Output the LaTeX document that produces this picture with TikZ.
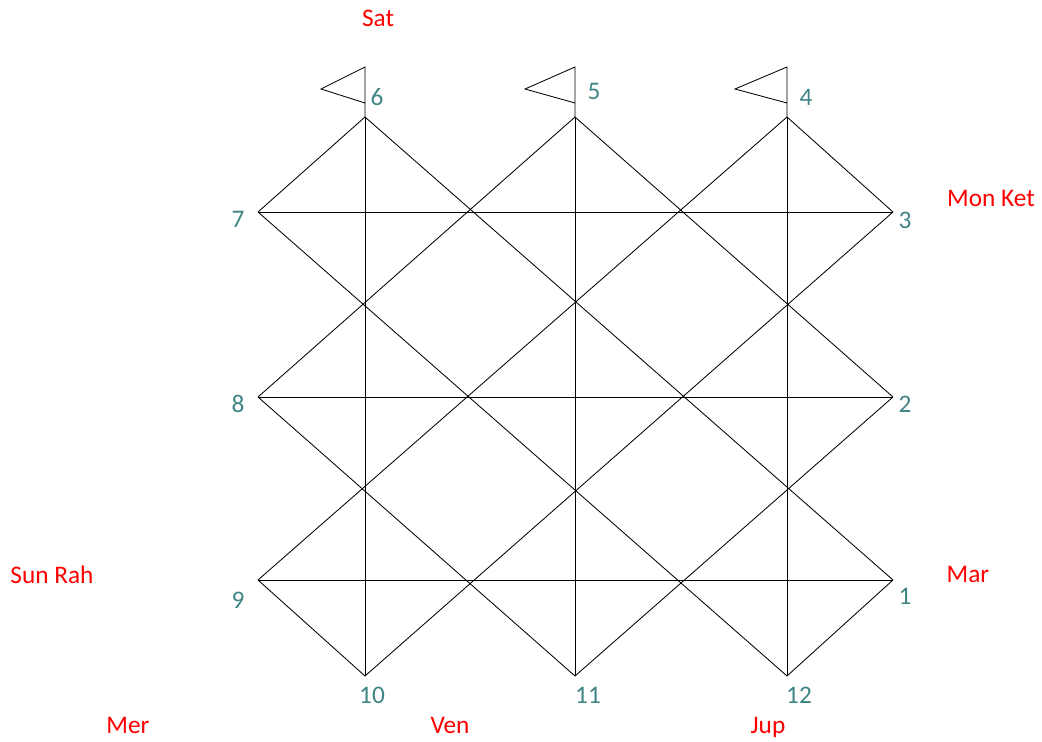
\documentclass[tikz,border=0pt]{standalone}
\usepackage{fontspec}
\setmainfont{Carlito}
\usetikzlibrary{positioning}
\definecolor{hsnum}{HTML}{3F8585}
\definecolor{hsplanet}{HTML}{FF0000}
\tikzset{
  hsline/.style={line width=0.6pt,black},
  hsnumber/.style={text=hsnum,font=\fontsize{18}{20}\selectfont,inner sep=0pt},
  hsname/.style={text=hsplanet,font=\fontsize{18}{20}\selectfont,inner sep=0pt},
}
\begin{document}
\begin{tikzpicture}[x=0.025cm,y=-0.025cm]
    \useasboundingbox (0,0) rectangle (1042,742);
    % corners of the chart
    \coordinate (h6) at (365,117);
    \coordinate (h5) at (575,117);
    \coordinate (h4) at (787,117);
    \coordinate (h7) at (258,212);
    \coordinate (h3) at (893,212);
    \coordinate (h8) at (258,397);
    \coordinate (h2) at (893,397);
    \coordinate (h9) at (258,580);
    \coordinate (h1) at (893,580);
    \coordinate (h10) at (365,676);
    \coordinate (h11) at (575,676);
    \coordinate (h12) at (787,676);
    % grid lines
    \foreach \a/\b in {h7/h3,h8/h2,h9/h1,h6/h10,h5/h11,h4/h12,
                       h7/h6,h6/h1,h5/h2,h4/h3,h4/h9,h5/h8,
                       h7/h12,h8/h11,h9/h10,h3/h10,h2/h11,h1/h12}
      \draw[hsline] (\a) -- (\b);
    % flags
    \foreach \p/\w in {h6/44,h5/50,h4/52}
      \draw[hsline] (\p) -- ++(0,-50) -- ++(-\w,22) -- ++(\w,14);
    % house numbers
    \node[hsnumber] (n6) at (377,97) {6};
    \node[hsnumber] (n5) at (594,91) {5};
    \node[hsnumber] (n4) at (806,97) {4};
    \node[hsnumber] (n7) at (238,219) {7};
    \node[hsnumber] (n3) at (905,220) {3};
    \node[hsnumber] (n8) at (238,404) {8};
    \node[hsnumber] (n2) at (905,404) {2};
    \node[hsnumber] (n9) at (238,600) {9};
    \node[hsnumber] (n1) at (905,596) {1};
    \node[hsnumber] (n10) at (372,695) {10};
    \node[hsnumber] (n11) at (588,695) {11};
    \node[hsnumber] (n12) at (799,695) {12};
    % planets
    \node[hsname] (sat) at (378,18) {Sat};
    \node[hsname] (monket) at (991,198) {Mon Ket};
    \node[hsname] (mar) at (968,574) {Mar};
    \node[hsname] (sunrah) at (52,575) {Sun Rah};
    \node[hsname] (mer) at (128,725) {Mer};
    \node[hsname] (ven) at (450,725) {Ven};
    \node[hsname] (jup) at (768,727) {Jup};
\end{tikzpicture}
\end{document}
